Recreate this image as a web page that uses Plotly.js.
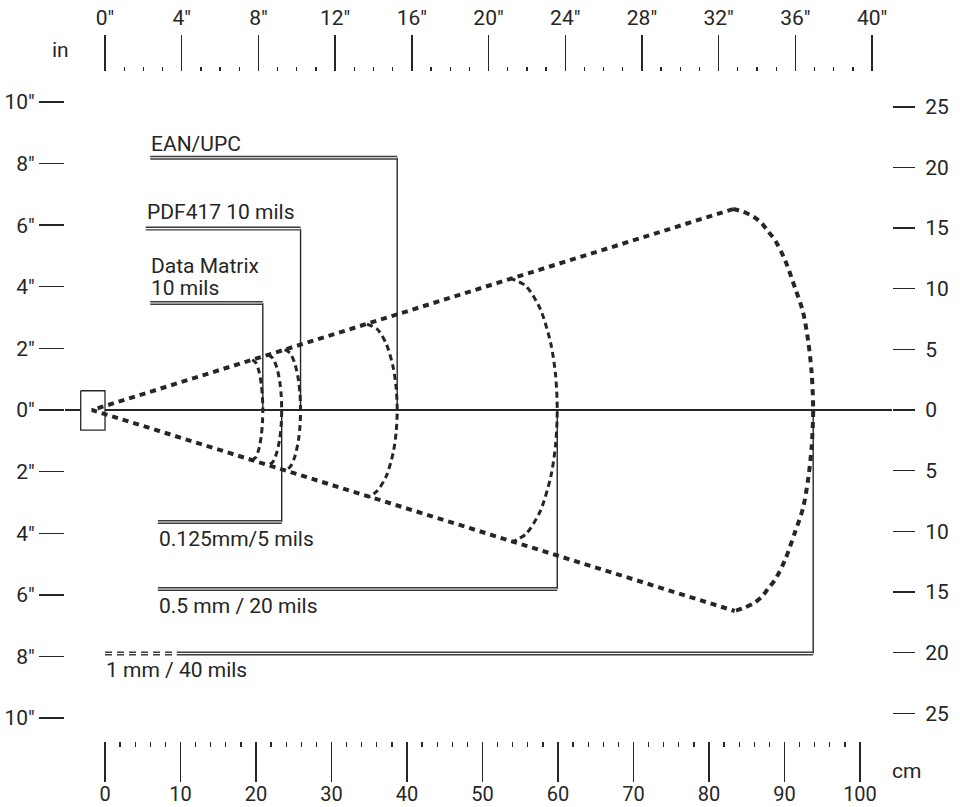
<!DOCTYPE html>
<html>
<head>
<meta charset="utf-8">
<script src="https://cdn.plot.ly/plotly-3.0.1.min.js"></script>
<style>html,body{margin:0;padding:0;background:#fff;}#chart{width:960px;height:807px;}</style>
</head>
<body>
<div id="chart"></div>
<script>
// ---------- data (all distances in cm) ----------
const codeLabels   = ['EAN/UPC', 'PDF417 10 mils', 'Data Matrix 10 mils', '0.125mm/5 mils', '0.5 mm / 20 mils', '1 mm / 40 mils'];
const labelLines   = [['EAN/UPC'], ['PDF417 10 mils'], ['Data Matrix', '10 mils'], ['0.125mm/5 mils'], ['0.5 mm / 20 mils'], ['1 mm / 40 mils']];
const maxRangeCm   = [38.7, 25.9, 20.9, 23.4, 59.9, 93.8];
const leaderYcm    = [20.8, 14.96, 8.82, -9.23, -14.76, -20.07];
const leaderFromCm = [6.0, 5.4, 6.0, 7.0, 7.0, 9.5];
const labelYcm     = [21.93, 16.32, 11.9, -10.61, -16.18, -21.46];
const labelXcm     = [6.0, 5.4, 6.0, 7.0, 7.0, 0.0];
const dashedLeaderFromCm = 0.0;   // dashed start of the 1 mm / 40 mils leader

// reading field envelope (cone)
const coneX = [83.2, -1.72, 83.4];
const coneY = [16.57, 0, -16.57];

// reading zone arcs (top -> far point -> bottom)
const arc40x = [83.2, 84.5, 85.9, 87.0, 87.85, 88.74, 90.07, 91.4, 92.45, 93.15, 93.6, 93.8,
                93.6, 93.15, 92.45, 91.4, 90.07, 88.74, 87.85, 87.0, 85.9, 84.5, 83.4];
const arc40y = [16.57, 16.35, 15.94, 15.39, 14.70, 14.01, 12.37, 10.06, 8.10, 5.63, 3.05, 0,
                -3.05, -5.63, -8.10, -10.06, -12.37, -14.01, -14.70, -15.39, -15.94, -16.35, -16.57];
const arc20x = [53.6, 55.75, 57.65, 59.06, 59.69, 59.9, 59.69, 59.06, 57.65, 55.75, 53.9];
const arc20y = [10.88, 10.22, 8.33, 5.44, 2.82, 0, -2.82, -5.44, -8.33, -10.22, -10.88];
const arcEANx = [34.7, 36.07, 37.27, 38.16, 38.56, 38.7, 38.56, 38.16, 37.27, 36.07, 35.0];
const arcEANy = [7.09, 6.66, 5.43, 3.55, 1.84, 0, -1.84, -3.55, -5.43, -6.66, -7.17];
const arcPDFx = [23.8, 24.52, 25.15, 25.62, 25.83, 25.9, 25.83, 25.62, 25.15, 24.52, 23.8];
const arcPDFy = [4.99, 4.69, 3.82, 2.50, 1.29, 0, -1.29, -2.50, -3.82, -4.69, -4.99];
const arc5x = [21.6, 22.22, 22.76, 23.16, 23.34, 23.4, 23.34, 23.16, 22.76, 22.22, 21.6];
const arc5y = [4.55, 4.28, 3.49, 2.28, 1.18, 0, -1.18, -2.28, -3.49, -4.28, -4.55];
const arcDMx = [19.5, 19.98, 20.4, 20.71, 20.85, 20.9, 20.85, 20.71, 20.4, 19.98, 19.5];
const arcDMy = [4.14, 3.89, 3.17, 2.07, 1.07, 0, -1.07, -2.07, -3.17, -3.89, -4.14];

// scanner
const scannerX = [-3.22, 0, 0, -3.22, -3.22];
const scannerY = [1.59, 1.59, -1.65, -1.65, 1.59];

// rulers
const cmMajor = [0, 10, 20, 30, 40, 50, 60, 70, 80, 90, 100];
const inMajor = [0, 4, 8, 12, 16, 20, 24, 28, 32, 36, 40];
const cmSide  = [-25, -20, -15, -10, -5, 0, 5, 10, 15, 20, 25];
const inSide  = [-10, -8, -6, -4, -2, 0, 2, 4, 6, 8, 10];

// ---------- view ----------
const X_RANGE = [-5.30, 104.24];
const Y_RANGE = [-27.29, 27.87];
const INK = '#262626';
const FONT = 'Roboto, "Noto Sans", sans-serif';
const W = 960, H = 807, M = {l: 65, r: 68, t: 72, b: 66};
const PW = W - M.l - M.r, PH = H - M.t - M.b;
const px2paperX = px => (px - M.l) / PW;
const px2paperY = py => (H - M.b - py) / PH;
const LINE_GAP_PX = 22;

const cmMinor = [];
for (let v = 0; v <= 100; v += 2) if (v % 10 !== 0) cmMinor.push(v);
const inMinor = [];
for (let v = 0; v <= 40; v += 1) if (v % 4 !== 0) inMinor.push(v);

const traces = [];
const base = {mode: 'lines', hoverinfo: 'skip', showlegend: false};

// leaders: vertical + double horizontal
codeLabels.forEach((lab, i) => {
  traces.push({...base, name: lab, x: [maxRangeCm[i], maxRangeCm[i]], y: [0, leaderYcm[i]],
    line: {color: INK, width: 1.4}});
  traces.push({...base, x: [leaderFromCm[i], maxRangeCm[i]], y: [leaderYcm[i], leaderYcm[i]],
    line: {color: '#3a3a3a', width: 4}});
  traces.push({...base, x: [leaderFromCm[i], maxRangeCm[i]], y: [leaderYcm[i], leaderYcm[i]],
    line: {color: '#fff', width: 1.1}});
});
// dashed start of the 1 mm leader
traces.push({...base, x: [dashedLeaderFromCm, leaderFromCm[5]], y: [leaderYcm[5], leaderYcm[5]],
  line: {color: '#3a3a3a', width: 4, dash: '7px,5px'}});
traces.push({...base, x: [dashedLeaderFromCm, leaderFromCm[5]], y: [leaderYcm[5], leaderYcm[5]],
  line: {color: '#fff', width: 1.1}});

// inner arcs
[[arcDMx, arcDMy], [arc5x, arc5y], [arcPDFx, arcPDFy], [arcEANx, arcEANy], [arc20x, arc20y]].forEach(a => {
  traces.push({...base, x: a[0], y: a[1],
    line: {color: INK, width: 3, dash: '6px,4px', shape: 'spline', smoothing: 0.8}});
});

// scanner box
traces.push({...base, x: scannerX, y: scannerY, fill: 'toself', fillcolor: '#fff',
  line: {color: INK, width: 1.3}});

// outer arc + cone
traces.push({...base, x: arc40x, y: arc40y,
  line: {color: INK, width: 4, dash: '6px,5px', shape: 'spline', smoothing: 0.8}});
traces.push({...base, x: coneX, y: coneY,
  line: {color: INK, width: 4, dash: '6px,5px'}});

// helper traces so the inch axes are drawn
traces.push({x: [], y: [], xaxis: 'x2', yaxis: 'y', showlegend: false, hoverinfo: 'skip'});
traces.push({x: [], y: [], xaxis: 'x', yaxis: 'y2', showlegend: false, hoverinfo: 'skip'});

const labelFont = {family: FONT, size: 21, color: INK};
const annotations = [];
labelLines.forEach((lines, i) => {
  lines.forEach((txt, k) => {
    annotations.push({
      x: labelXcm[i], y: labelYcm[i], xref: 'x', yref: 'y', text: txt, showarrow: false,
      xanchor: 'left', yanchor: 'middle', align: 'left', yshift: -k * LINE_GAP_PX,
      borderpad: 0, font: labelFont
    });
  });
});
annotations.push({x: px2paperX(60), y: px2paperY(50), xref: 'paper', yref: 'paper', text: 'in',
  showarrow: false, xanchor: 'center', yanchor: 'middle', font: labelFont});
annotations.push({x: px2paperX(906), y: px2paperY(771), xref: 'paper', yref: 'paper', text: 'cm',
  showarrow: false, xanchor: 'center', yanchor: 'middle', font: labelFont});

const tickFont = {family: FONT, size: 21, color: INK};

const layout = {
  width: W, height: H,
  margin: M,
  paper_bgcolor: '#fff', plot_bgcolor: 'rgba(0,0,0,0)',
  showlegend: false,
  xaxis: {
    range: X_RANGE, showgrid: false, zeroline: false, showline: false,
    tickmode: 'array', tickvals: cmMajor, ticktext: cmMajor.map(String),
    ticks: 'outside', ticklen: 40, tickwidth: 1.5, tickcolor: INK,
    tickfont: {family: FONT, size: 20, color: INK},
    ticklabelstandoff: -5,
    minor: {tickmode: 'array', tickvals: cmMinor, ticks: 'outside', ticklen: 5, tickwidth: 1.3, tickcolor: INK, showgrid: false},
    fixedrange: true
  },
  xaxis2: {
    range: X_RANGE.map(v => v / 2.54), overlaying: 'x', side: 'top', anchor: 'y',
    showgrid: false, zeroline: false, showline: false,
    tickmode: 'array', tickvals: inMajor, ticktext: inMajor.map(v => v + '"'),
    ticks: 'outside', ticklen: 36, tickwidth: 1.5, tickcolor: INK, tickfont: tickFont,
    ticklabelstandoff: 2,
    minor: {tickmode: 'array', tickvals: inMinor, ticks: 'outside', ticklen: 4, tickwidth: 1.3, tickcolor: INK, showgrid: false},
    fixedrange: true
  },
  yaxis: {
    range: Y_RANGE, side: 'right', showgrid: false, showline: false,
    zeroline: true, zerolinecolor: INK, zerolinewidth: 1.4,
    tickmode: 'array', tickvals: cmSide, ticktext: cmSide.map(v => String(Math.abs(v))),
    ticks: 'outside', ticklen: 22, tickwidth: 1.4, tickcolor: INK, tickfont: tickFont,
    ticklabelstandoff: 6,
    fixedrange: true
  },
  yaxis2: {
    range: Y_RANGE.map(v => v / 2.54), overlaying: 'y', side: 'left', anchor: 'x',
    showgrid: false, zeroline: false, showline: false,
    tickmode: 'array', tickvals: inSide, ticktext: inSide.map(v => Math.abs(v) + '"'),
    ticks: 'outside', ticklen: 25, tickwidth: 1.4, tickcolor: INK, tickfont: tickFont,
    ticklabelstandoff: 0,
    fixedrange: true
  },
  annotations: annotations
};

Plotly.newPlot('chart', traces, layout, {staticPlot: true, displayModeBar: false});
</script>
</body>
</html>
